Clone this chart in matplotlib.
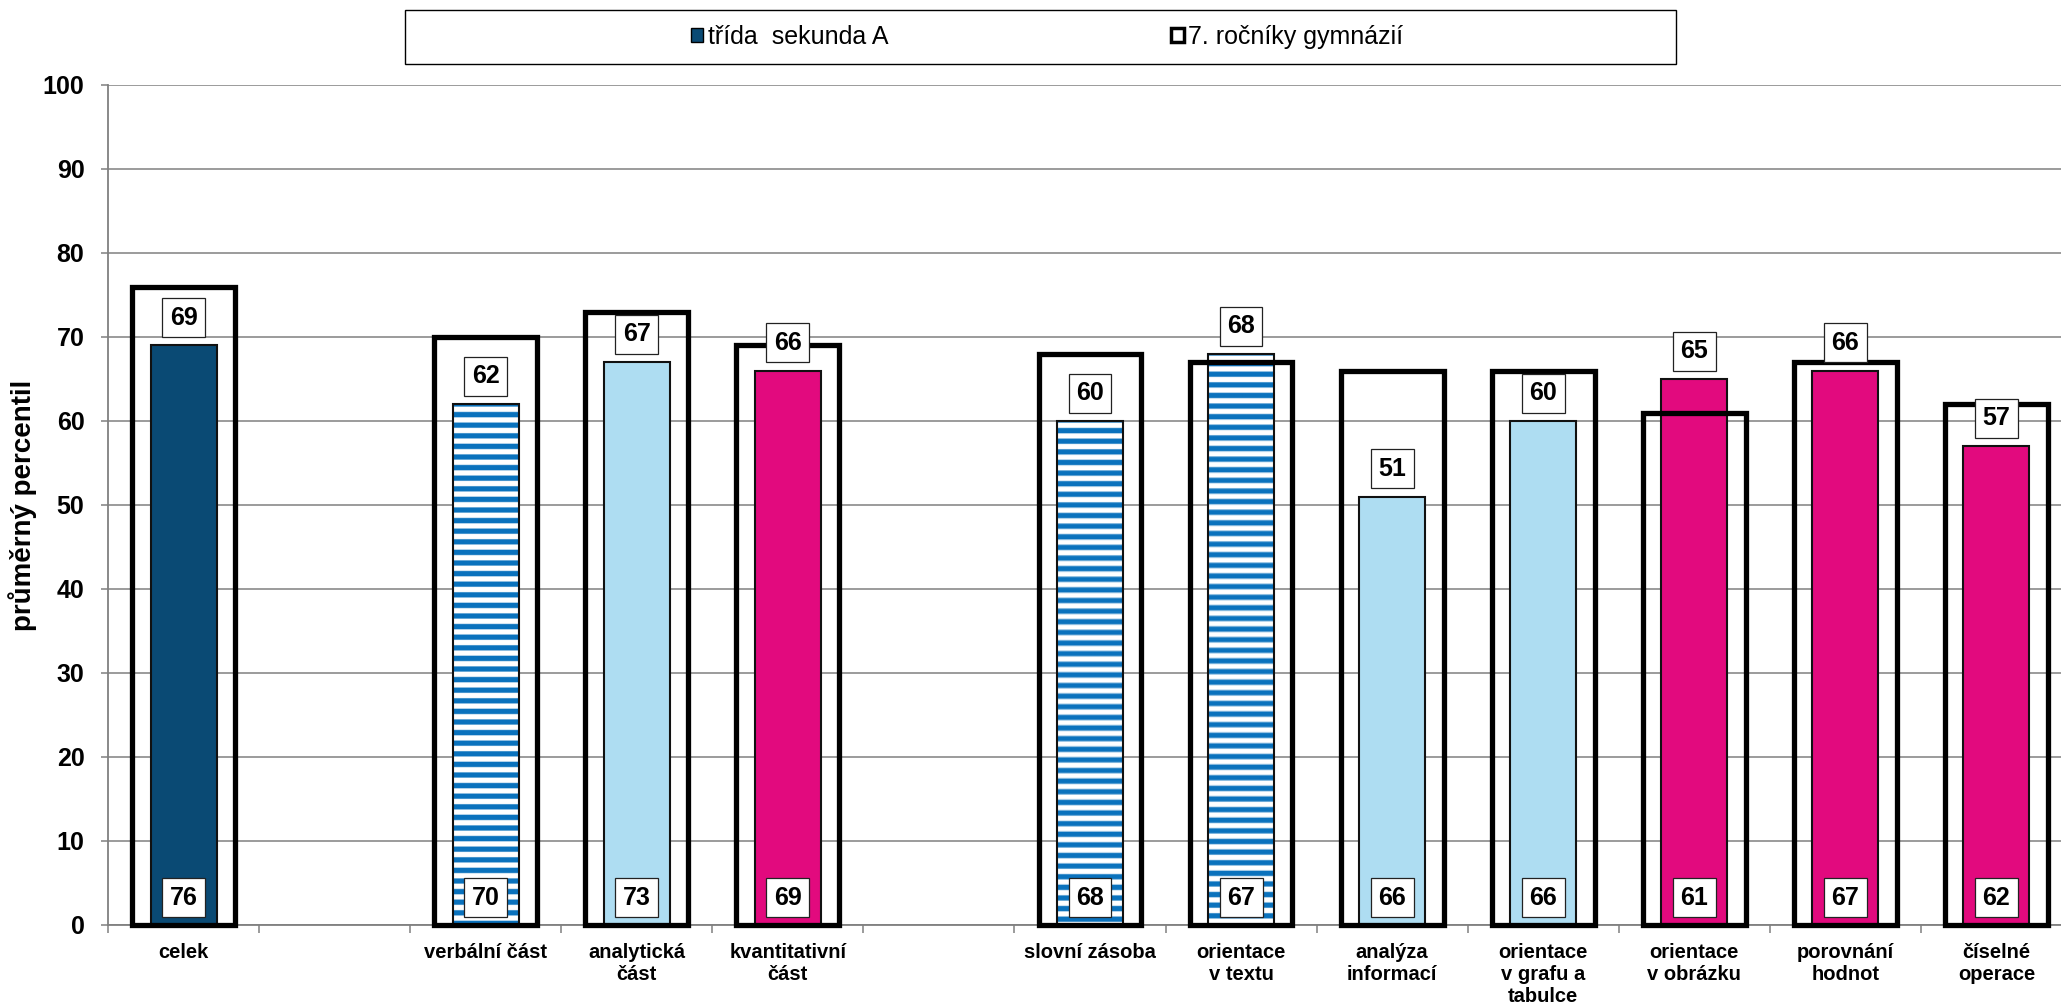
import numpy as np
import matplotlib
matplotlib.use("Agg")
from matplotlib import pyplot as plt
from matplotlib.patches import Patch, Rectangle
from matplotlib.colors import to_rgb

plt.rcParams["font.family"] = ["Liberation Sans", "DejaVu Sans"]

# prázdné položky oddělují skupiny kategorií
categories = ["celek", "", "verbální část", "analytická\nčást", "kvantitativní\nčást", "",
              "slovní zásoba", "orientace\nv textu", "analýza\ninformací",
              "orientace\nv grafu a\ntabulce", "orientace\nv obrázku", "porovnání\nhodnot",
              "číselné\noperace"]
trida = [69, None, 62, 67, 66, None, 60, 68, 51, 60, 65, 66, 57]
gymnazia = [76, None, 70, 73, 69, None, 68, 67, 66, 66, 61, 67, 62]
# typ výplně sloupce třídy podle části testu
part = ["celek", None, "verbal", "analyt", "kvant", None,
        "verbal", "verbal", "analyt", "analyt", "kvant", "kvant", "kvant"]

colors = {"celek": "#0A4A74", "verbal": "#0A72BD", "analyt": "#AEDDF2", "kvant": "#E20A7E"}

fig = plt.figure(figsize=(20.61, 10.08), dpi=100)
ax = fig.add_axes([108 / 2061, 83 / 1008, 1964 / 2061, 840 / 1008])

x = np.arange(len(categories))
mask = np.array([v is not None for v in trida])
xs = x[mask]
t_vals = np.array([v for v in trida if v is not None])
g_vals = np.array([v for v in gymnazia if v is not None])
t_parts = [p for p in part if p is not None]

inner_w = 0.437
outer_w = 0.68


def stripes(value, px_per_unit=8.4, period=10.6):
    # vodorovné modrobílé pruhy jako výplň sloupce
    rows = int(round(value * px_per_unit))
    phase = (np.arange(rows) + 0.5) / period
    t = 0.5 + 0.5 * np.cos(2 * np.pi * phase)
    k = np.clip((t - 0.3) / 0.4, 0, 1)[:, None]
    blue = np.array(to_rgb(colors["verbal"]))
    img = (1 - k) * np.ones(3) + k * blue
    return img[:, None, :]


for xi, v, p in zip(xs, t_vals, t_parts):
    if p == "verbal":
        ax.imshow(stripes(v), extent=(xi - inner_w / 2, xi + inner_w / 2, 0, v),
                  aspect="auto", interpolation="bilinear", origin="upper", zorder=2)
        ax.bar(xi, v, inner_w, fill=False, edgecolor="#111111", linewidth=1.5, zorder=2.5)
    else:
        ax.bar(xi, v, inner_w, color=colors[p], edgecolor="#111111", linewidth=1.5, zorder=2)

outline = ax.bar(xs, g_vals, outer_w, fill=False, edgecolor="black", linewidth=3.8,
                 zorder=3)
for r in outline:
    r.set_clip_on(False)

box = dict(boxstyle="square,pad=0.3", facecolor="white", edgecolor="#222222", linewidth=0.9)
for xi, tv, gv in zip(xs, t_vals, g_vals):
    ax.annotate(f"{tv}", (xi, tv), xytext=(0, 20), textcoords="offset points",
                ha="center", va="center", fontsize=18, fontweight="bold", bbox=box, zorder=5)
    ax.annotate(f"{gv}", (xi, 0), xytext=(0, 19.5), textcoords="offset points",
                ha="center", va="center", fontsize=18, fontweight="bold", bbox=box, zorder=5)

ax.set_xlim(-0.5, len(categories) - 0.5)
ax.set_ylim(0, 100)
ax.set_yticks(np.arange(0, 101, 10))
ax.yaxis.grid(True, color="#808080", linewidth=1.1)
ax.set_axisbelow(True)
ax.tick_params(axis="y", labelsize=18, length=5, width=1.1, color="#808080", pad=12)
for lab in ax.get_yticklabels():
    lab.set_fontweight("bold")

ax.set_xticks(x)
ax.set_xticklabels(categories, fontsize=14.5, fontweight="bold", linespacing=1.2)
ax.set_xticks(np.arange(-0.5, len(categories), 1.0), minor=True)
ax.tick_params(axis="x", which="major", length=0, pad=13)
ax.tick_params(axis="x", which="minor", length=6, width=1.1, color="#808080")

for s in ["top", "right"]:
    ax.spines[s].set_visible(False)
for s in ["left", "bottom"]:
    ax.spines[s].set_color("#808080")
    ax.spines[s].set_linewidth(1.3)

ax.set_ylabel("průměrný percentil", fontsize=20, fontweight="bold")
ax.yaxis.set_label_coords(-0.036, 0.5)

# rámeček legendy
fig.patches.append(Rectangle((405 / 2061, 1 - 64 / 1008), 1271 / 2061, 54 / 1008,
                             transform=fig.transFigure, fill=False,
                             edgecolor="black", linewidth=1.0))
handles = [Patch(facecolor=colors["celek"], edgecolor="black", linewidth=1.0),
           Patch(facecolor="white", edgecolor="black", linewidth=2.5)]
fig.legend(handles, ["třída  sekunda A", "7. ročníky gymnázií"], loc="center",
           bbox_to_anchor=(1047 / 2061, 1 - 37 / 1008), ncol=2, frameon=False,
           fontsize=18, handlelength=0.5, handleheight=0.5, handletextpad=0.2,
           columnspacing=11.3)

fig.savefig("out.png", dpi=100)
